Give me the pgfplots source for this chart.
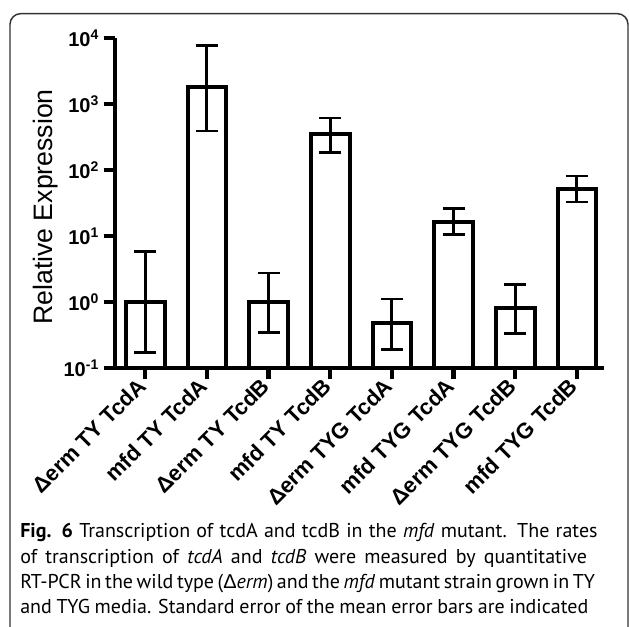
\documentclass[border=0pt]{standalone}
\usepackage{fontspec}
\setmainfont{Liberation Sans}
\newfontfamily\capfont{PT Sans}
\newfontfamily\deltafont{Liberation Sans}
\usepackage{pgfplots}
\usepackage{pgfplotstable}
\pgfplotsset{compat=1.18}

% relative expression, with error above (ep) and below (em)
\pgfplotstableread{
x y     ep    em
0 1.0   4.9   0.83
1 1820  5980  1430
2 1.0   1.75  0.65
3 351   263   164
4 0.48  0.63  0.29
5 16.3  9.4   5.9
6 0.81  1.06  0.48
7 51.6  29.4  18.9
}\exprtable

% one caption line, spaces stretched or shrunk to the given width
\newcommand\capline[2]{{\spaceskip=0.26em plus 0.6em minus 0.14em\makebox[#1][s]{#2}}}

\begin{document}
\begin{tikzpicture}
\useasboundingbox (0,0) rectangle (471.75pt,470.25pt);

% rounded frame, open at the bottom
\draw[line width=1.1pt, black!80]
  (7.5pt,-5pt) -- (7.5pt,452pt) arc[start angle=180, end angle=90, radius=8pt]
  -- (463pt,460pt) arc[start angle=90, end angle=0, radius=8pt] -- (471pt,-5pt);

\begin{axis}[
    at={(86.25pt,194.25pt)}, anchor=south west,
    scale only axis,
    width=366.75pt, height=247.5pt,
    ymode=log, log origin y=infty,
    ymin=0.1, ymax=10000,
    xmin=-0.49, xmax=7.44,
    axis x line*=bottom, axis y line*=left,
    axis line style={line width=3.4pt, -},
    tick align=outside,
    major tick length=8.5pt,
    tick style={line width=3.4pt, black},
    yminorticks=false,
    ytick={0.1,1,10,100,1000,10000},
    yticklabels={10\textsuperscript{-1},10\textsuperscript{0},10\textsuperscript{1},
                 10\textsuperscript{2},10\textsuperscript{3},10\textsuperscript{4}},
    yticklabel style={font=\bfseries\fontsize{15}{18}\selectfont},
    xtick={0,...,7},
    xticklabels={{Δerm TY TcdA},{mfd TY TcdA},{Δerm TY TcdB},{mfd TY TcdB},
                 {Δerm TYG TcdA},{mfd TYG TcdA},{Δerm TYG TcdB},{mfd TYG TcdB}},
    xticklabel style={font=\bfseries\fontsize{16.5}{19}\selectfont, rotate=45, anchor=east},
]
\addplot[ybar, bar width=29pt, fill=white, draw=black, line width=3pt,
  error bars/.cd, y dir=both, y explicit,
  error bar style={line width=2.2pt, black},
  error mark options={rotate=90, mark size=8.25pt, line width=2.2pt, black}]
  table[x=x, y=y, y error plus=ep, y error minus=em] {\exprtable};
\end{axis}

\node[rotate=90, font=\fontsize{20}{24}\selectfont] at (34pt,315pt) {Relative Expression};

\begin{scope}[every node/.style={anchor=base west, inner sep=0pt, font=\capfont\fontsize{15}{19}\selectfont}]
\node at (15pt,67pt) {\capline{433pt}{\textbf{Fig. 6} Transcription of tcdA and tcdB in the \textit{mfd} mutant. The rates}};
\node at (15pt,47.5pt) {\capline{425pt}{of transcription of \textit{tcdA} and \textit{tcdB} were measured by quantitative}};
\node at (15pt,28.5pt) {\capline{431pt}{RT-PCR in the wild type ({\deltafont Δ}\textit{erm}) and the \textit{mfd} mutant strain grown in TY}};
\node at (15pt,9.75pt) {\capline{426pt}{and TYG media. Standard error of the mean error bars are indicated}};
\end{scope}
\end{tikzpicture}
\end{document}
